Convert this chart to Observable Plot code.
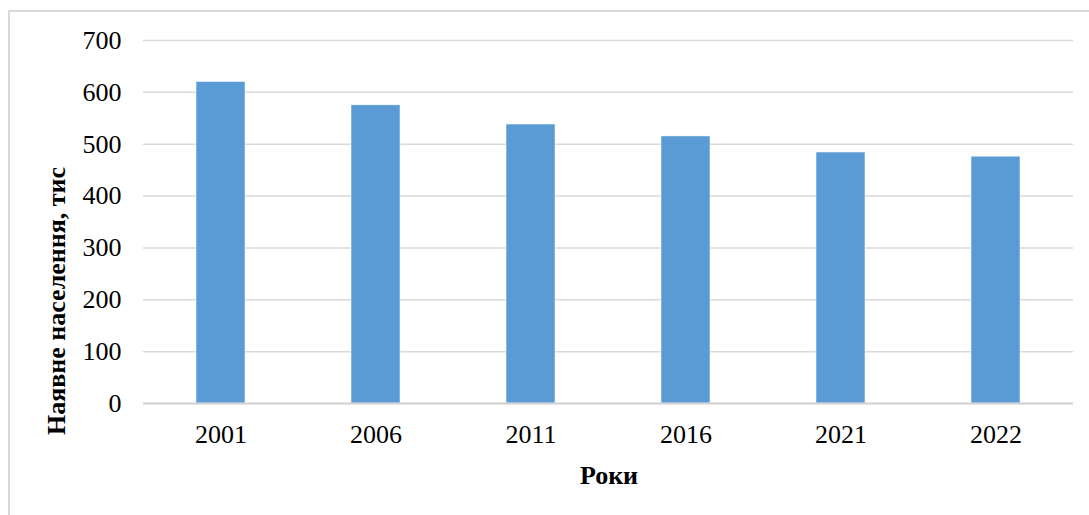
<!DOCTYPE html>
<html>
<head>
<meta charset="utf-8">
<script src="https://cdn.jsdelivr.net/npm/d3@7"></script>
<script src="https://cdn.jsdelivr.net/npm/@observablehq/plot@0.6"></script>
<style>
  html, body { margin: 0; padding: 0; background: #fff; }
  #wrap { position: relative; width: 1089px; height: 515px; overflow: hidden; }
  #border { position: absolute; left: 8px; top: 10px; width: 1100px; height: 520px;
            border-left: 2px solid #d9d9d9; border-top: 2px solid #d9d9d9; box-sizing: border-box; }
  #chart { position: absolute; left: 0; top: 0; }
</style>
</head>
<body>
<div id="wrap"><div id="border"></div><div id="chart"></div></div>
<script>
const years = ["2001", "2006", "2011", "2016", "2021", "2022"];
const population = [620, 575, 538, 515, 484, 476];
const yTicks = [0, 100, 200, 300, 400, 500, 600, 700];
const yTitle = "Наявне населення, тис";
const xTitle = "Роки";

const data = years.map((y, i) => ({ year: y, value: population[i] }));
const font = "'Liberation Serif', 'Times New Roman', serif";

const chart = Plot.plot({
  width: 1089,
  height: 515,
  marginLeft: 143,
  marginRight: 16,
  marginTop: 40,
  marginBottom: 112,
  style: { fontFamily: font, fontSize: "26px", color: "#000", background: "transparent" },
  x: { domain: years, paddingInner: 0.686, paddingOuter: 0.343, label: null },
  y: { domain: [0, 700], label: null },
  marks: [
    Plot.ruleY(yTicks.filter(d => d > 0), { stroke: "#d9d9d9", strokeWidth: 1.5 }),
    Plot.barY(data, { x: "year", y: "value", fill: "#5b9bd5", stroke: "#ffffff", strokeWidth: 0.5 }),
    Plot.ruleY([0], { stroke: "#d0d0d0", strokeWidth: 2 }),
    Plot.axisY({ ticks: yTicks, tickSize: 0, tickPadding: 22, label: null, fontSize: 26 }),
    Plot.axisX({ tickSize: 0, tickPadding: 21, label: null, fontSize: 26 })
  ]
});

const svg = d3.select(chart);
svg.append("text")
  .attr("transform", "translate(65,301) rotate(-90)")
  .attr("text-anchor", "middle")
  .attr("font-family", font)
  .attr("font-size", 26)
  .attr("font-weight", "bold")
  .attr("fill", "#000")
  .text(yTitle);
svg.append("text")
  .attr("x", 609)
  .attr("y", 484)
  .attr("text-anchor", "middle")
  .attr("font-family", font)
  .attr("font-size", 26)
  .attr("font-weight", "bold")
  .attr("fill", "#000")
  .text(xTitle);

document.getElementById("chart").appendChild(chart);
</script>
</body>
</html>
